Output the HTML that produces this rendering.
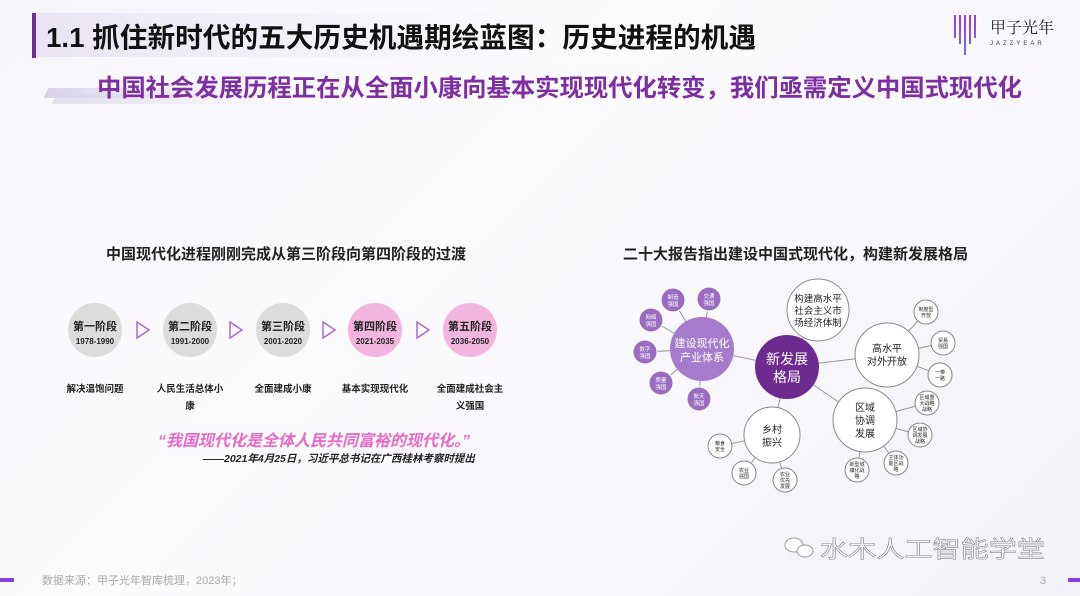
<!DOCTYPE html>
<html><head><meta charset="utf-8"><style>
body{margin:0;width:1080px;height:596px;overflow:hidden;background:linear-gradient(135deg,#f6f5fa 0%,#fbfafd 40%,#f3f2f9 100%);font-family:"Liberation Sans","Noto Sans CJK SC",sans-serif;}
svg{position:absolute;left:0;top:0}
</style></head><body>
<svg width="1080" height="596" viewBox="0 0 1080 596" font-family="Liberation Sans, Noto Sans CJK SC, sans-serif">
<defs>
<linearGradient id="tb" x1="0" x2="1"><stop offset="0" stop-color="#e9e3f3"/><stop offset="1" stop-color="#f6f4fa" stop-opacity="0"/></linearGradient>
<linearGradient id="sb" x1="0" x2="1"><stop offset="0" stop-color="#d9d2ea"/><stop offset="1" stop-color="#efeaf6" stop-opacity="0"/></linearGradient>
<linearGradient id="lg" gradientUnits="userSpaceOnUse" x1="0" y1="15" x2="0" y2="55"><stop offset="0" stop-color="#a23bd6"/><stop offset="1" stop-color="#6a6ef0"/></linearGradient>
</defs>
<rect x="32" y="13" width="560" height="44" fill="url(#tb)"/>
<rect x="32" y="13" width="4" height="45" fill="#6e2e8c"/>
<text x="46" y="47" font-size="27.5" font-weight="bold" fill="#111" textLength="710" lengthAdjust="spacingAndGlyphs">1.1 抓住新时代的五大历史机遇期绘蓝图：历史进程的机遇</text>
<polygon points="48,88 300,88 296,98 44,98" fill="url(#sb)"/>
<polygon points="56,94 300,94 296,104 52,104" fill="url(#sb)" opacity="0.7"/>
<text x="97" y="96" font-size="24" font-weight="bold" fill="#7b2fa0" textLength="925" lengthAdjust="spacingAndGlyphs">中国社会发展历程正在从全面小康向基本实现现代化转变，我们亟需定义中国式现代化</text>
<!-- logo -->
<g stroke="url(#lg)" stroke-width="2">
<line x1="955" y1="15" x2="955" y2="38"/><line x1="960" y1="15" x2="960" y2="44"/><line x1="965" y1="15" x2="965" y2="55"/><line x1="970" y1="15" x2="970" y2="44"/><line x1="975" y1="15" x2="975" y2="38"/>
</g>
<text x="990" y="33" font-size="16" fill="#222" font-family="Noto Serif CJK SC, serif">甲子光年</text>
<text x="990" y="45" font-size="6" fill="#444" letter-spacing="3">JAZZYEAR</text>

<text x="106" y="259" font-size="15" font-weight="bold" fill="#222">中国现代化进程刚刚完成从第三阶段向第四阶段的过渡</text>
<text x="623" y="259" font-size="15" font-weight="bold" fill="#222">二十大报告指出建设中国式现代化，构建新发展格局</text>

<!-- stages -->
<g font-weight="bold" text-anchor="middle" fill="#222">
<circle cx="95" cy="330" r="27" fill="#dcdcdc"/><circle cx="190" cy="330" r="27" fill="#dcdcdc"/><circle cx="283" cy="330" r="27" fill="#dcdcdc"/>
<circle cx="375" cy="330" r="27" fill="#f2b5e0"/><circle cx="470" cy="330" r="27" fill="#f2b5e0"/>
<text x="95" y="330" font-size="11">第一阶段</text><text x="95" y="344" font-size="8">1978-1990</text>
<text x="190" y="330" font-size="11">第二阶段</text><text x="190" y="344" font-size="8">1991-2000</text>
<text x="283" y="330" font-size="11">第三阶段</text><text x="283" y="344" font-size="8">2001-2020</text>
<text x="375" y="330" font-size="11">第四阶段</text><text x="375" y="344" font-size="8">2021-2035</text>
<text x="470" y="330" font-size="11">第五阶段</text><text x="470" y="344" font-size="8">2036-2050</text>
<g font-size="9.5">
<text x="95" y="392">解决温饱问题</text>
<text x="190" y="392">人民生活总体小</text><text x="190" y="409">康</text>
<text x="283" y="392">全面建成小康</text>
<text x="375" y="392">基本实现现代化</text>
<text x="470" y="392">全面建成社会主</text><text x="470" y="409">义强国</text>
</g>
</g>
<g fill="none" stroke="#a86cc9" stroke-width="1.5">
<polygon points="137,322 149,330 137,338"/><polygon points="230,322 242,330 230,338"/><polygon points="323,322 335,330 323,338"/><polygon points="417,322 429,330 417,338"/>
</g>
<text x="158" y="446" font-size="16" font-weight="bold" font-style="italic" fill="#e46ac6">“我国现代化是全体人民共同富裕的现代化。”</text>
<text x="203" y="462" font-size="10.5" font-weight="bold" font-style="italic" fill="#222">——2021年4月25日，习近平总书记在广西桂林考察时提出</text>

<!-- mind map lines -->
<g stroke="#999" stroke-width="1">
<line x1="787" y1="367" x2="702" y2="349"/><line x1="787" y1="367" x2="818" y2="310"/><line x1="787" y1="367" x2="887" y2="355"/><line x1="787" y1="367" x2="865" y2="420"/><line x1="787" y1="367" x2="772" y2="435"/>
<line x1="702" y1="349" x2="673" y2="300"/><line x1="702" y1="349" x2="709" y2="299"/><line x1="702" y1="349" x2="651" y2="320"/><line x1="702" y1="349" x2="645" y2="352"/><line x1="702" y1="349" x2="661" y2="383"/><line x1="702" y1="349" x2="699" y2="399"/>
<line x1="887" y1="355" x2="926" y2="312"/><line x1="887" y1="355" x2="943" y2="343"/><line x1="887" y1="355" x2="940" y2="375"/>
<line x1="865" y1="420" x2="927" y2="403"/><line x1="865" y1="420" x2="920" y2="435"/><line x1="865" y1="420" x2="896" y2="463"/><line x1="865" y1="420" x2="857" y2="470"/>
<line x1="772" y1="435" x2="720" y2="446"/><line x1="772" y1="435" x2="744" y2="473"/><line x1="772" y1="435" x2="785" y2="480"/>
</g>
<g fill="#9a6cc0" stroke="#fff" stroke-width="1">
<circle cx="673" cy="300" r="12"/><circle cx="709" cy="299" r="12"/><circle cx="651" cy="320" r="12"/><circle cx="645" cy="352" r="12"/><circle cx="661" cy="383" r="12"/><circle cx="699" cy="399" r="12"/>
</g>
<circle cx="702" cy="349" r="32" fill="#a77bcc"/>
<circle cx="787" cy="367" r="32" fill="#6d2b8f"/>
<g fill="#fff" stroke="#888" stroke-width="1">
<circle cx="818" cy="310" r="31"/><circle cx="887" cy="355" r="32"/><circle cx="865" cy="420" r="32"/><circle cx="772" cy="435" r="28"/>
<circle cx="926" cy="312" r="12"/><circle cx="943" cy="343" r="12"/><circle cx="940" cy="375" r="12"/><circle cx="927" cy="403" r="12"/><circle cx="920" cy="435" r="12"/><circle cx="896" cy="463" r="12"/><circle cx="857" cy="470" r="12"/>
<circle cx="720" cy="446" r="12"/><circle cx="744" cy="473" r="12"/><circle cx="785" cy="480" r="12"/>
</g>
<g text-anchor="middle" fill="#fff">
<text x="787" y="364" font-size="14">新发展</text><text x="787" y="382" font-size="14">格局</text>
<text x="702" y="347" font-size="11">建设现代化</text><text x="702" y="361" font-size="11">产业体系</text>
<g font-size="5.5"><text x="673" y="299">制造</text><text x="673" y="306">强国</text><text x="709" y="298">交通</text><text x="709" y="305">强国</text><text x="651" y="319">网络</text><text x="651" y="326">强国</text><text x="645" y="351">数字</text><text x="645" y="358">强国</text><text x="661" y="382">质量</text><text x="661" y="389">强国</text><text x="699" y="398">航天</text><text x="699" y="405">强国</text></g>
</g>
<g text-anchor="middle" fill="#222">
<g font-size="9.5"><text x="818" y="302">构建高水平</text><text x="818" y="314">社会主义市</text><text x="818" y="326">场经济体制</text></g>
<g font-size="10"><text x="887" y="352">高水平</text><text x="887" y="365">对外开放</text>
<text x="865" y="411">区域</text><text x="865" y="424">协调</text><text x="865" y="437">发展</text>
<text x="772" y="433">乡村</text><text x="772" y="446">振兴</text></g>
<g font-size="5"><text x="926" y="311">制度型</text><text x="926" y="317">开放</text><text x="943" y="342">贸易</text><text x="943" y="348">强国</text><text x="940" y="374">一带</text><text x="940" y="380">一路</text>
<text x="927" y="399">区域重</text><text x="927" y="405">大战略</text><text x="927" y="411">战略</text>
<text x="920" y="431">区域协</text><text x="920" y="437">调发展</text><text x="920" y="443">战略</text>
<text x="896" y="459">主体功</text><text x="896" y="465">能区战</text><text x="896" y="471">略</text>
<text x="857" y="466">新型城</text><text x="857" y="472">镇化战</text><text x="857" y="478">略</text>
<text x="720" y="445">粮食</text><text x="720" y="451">安全</text><text x="744" y="472">农业</text><text x="744" y="478">强国</text><text x="785" y="476">农业</text><text x="785" y="482">优先</text><text x="785" y="488">发展</text></g>
</g>

<!-- footer -->
<g fill="#fff" stroke="#999" stroke-width="1"><ellipse cx="794" cy="545" rx="9" ry="7"/><ellipse cx="805" cy="551" rx="8" ry="6"/></g>
<text x="820" y="557" font-size="23" fill="#fff" stroke="#888" stroke-width="0.6" textLength="225" lengthAdjust="spacingAndGlyphs">水木人工智能学堂</text>
<rect x="0" y="578" width="14" height="4" fill="#8a3fe0"/>
<rect x="1068" y="578" width="12" height="4" fill="#8a3fe0"/>
<text x="42" y="584" font-size="11" fill="#aaa">数据来源：甲子光年智库梳理，2023年；</text>
<text x="1040" y="584" font-size="11" fill="#aaa">3</text>
</svg>
</body></html>
